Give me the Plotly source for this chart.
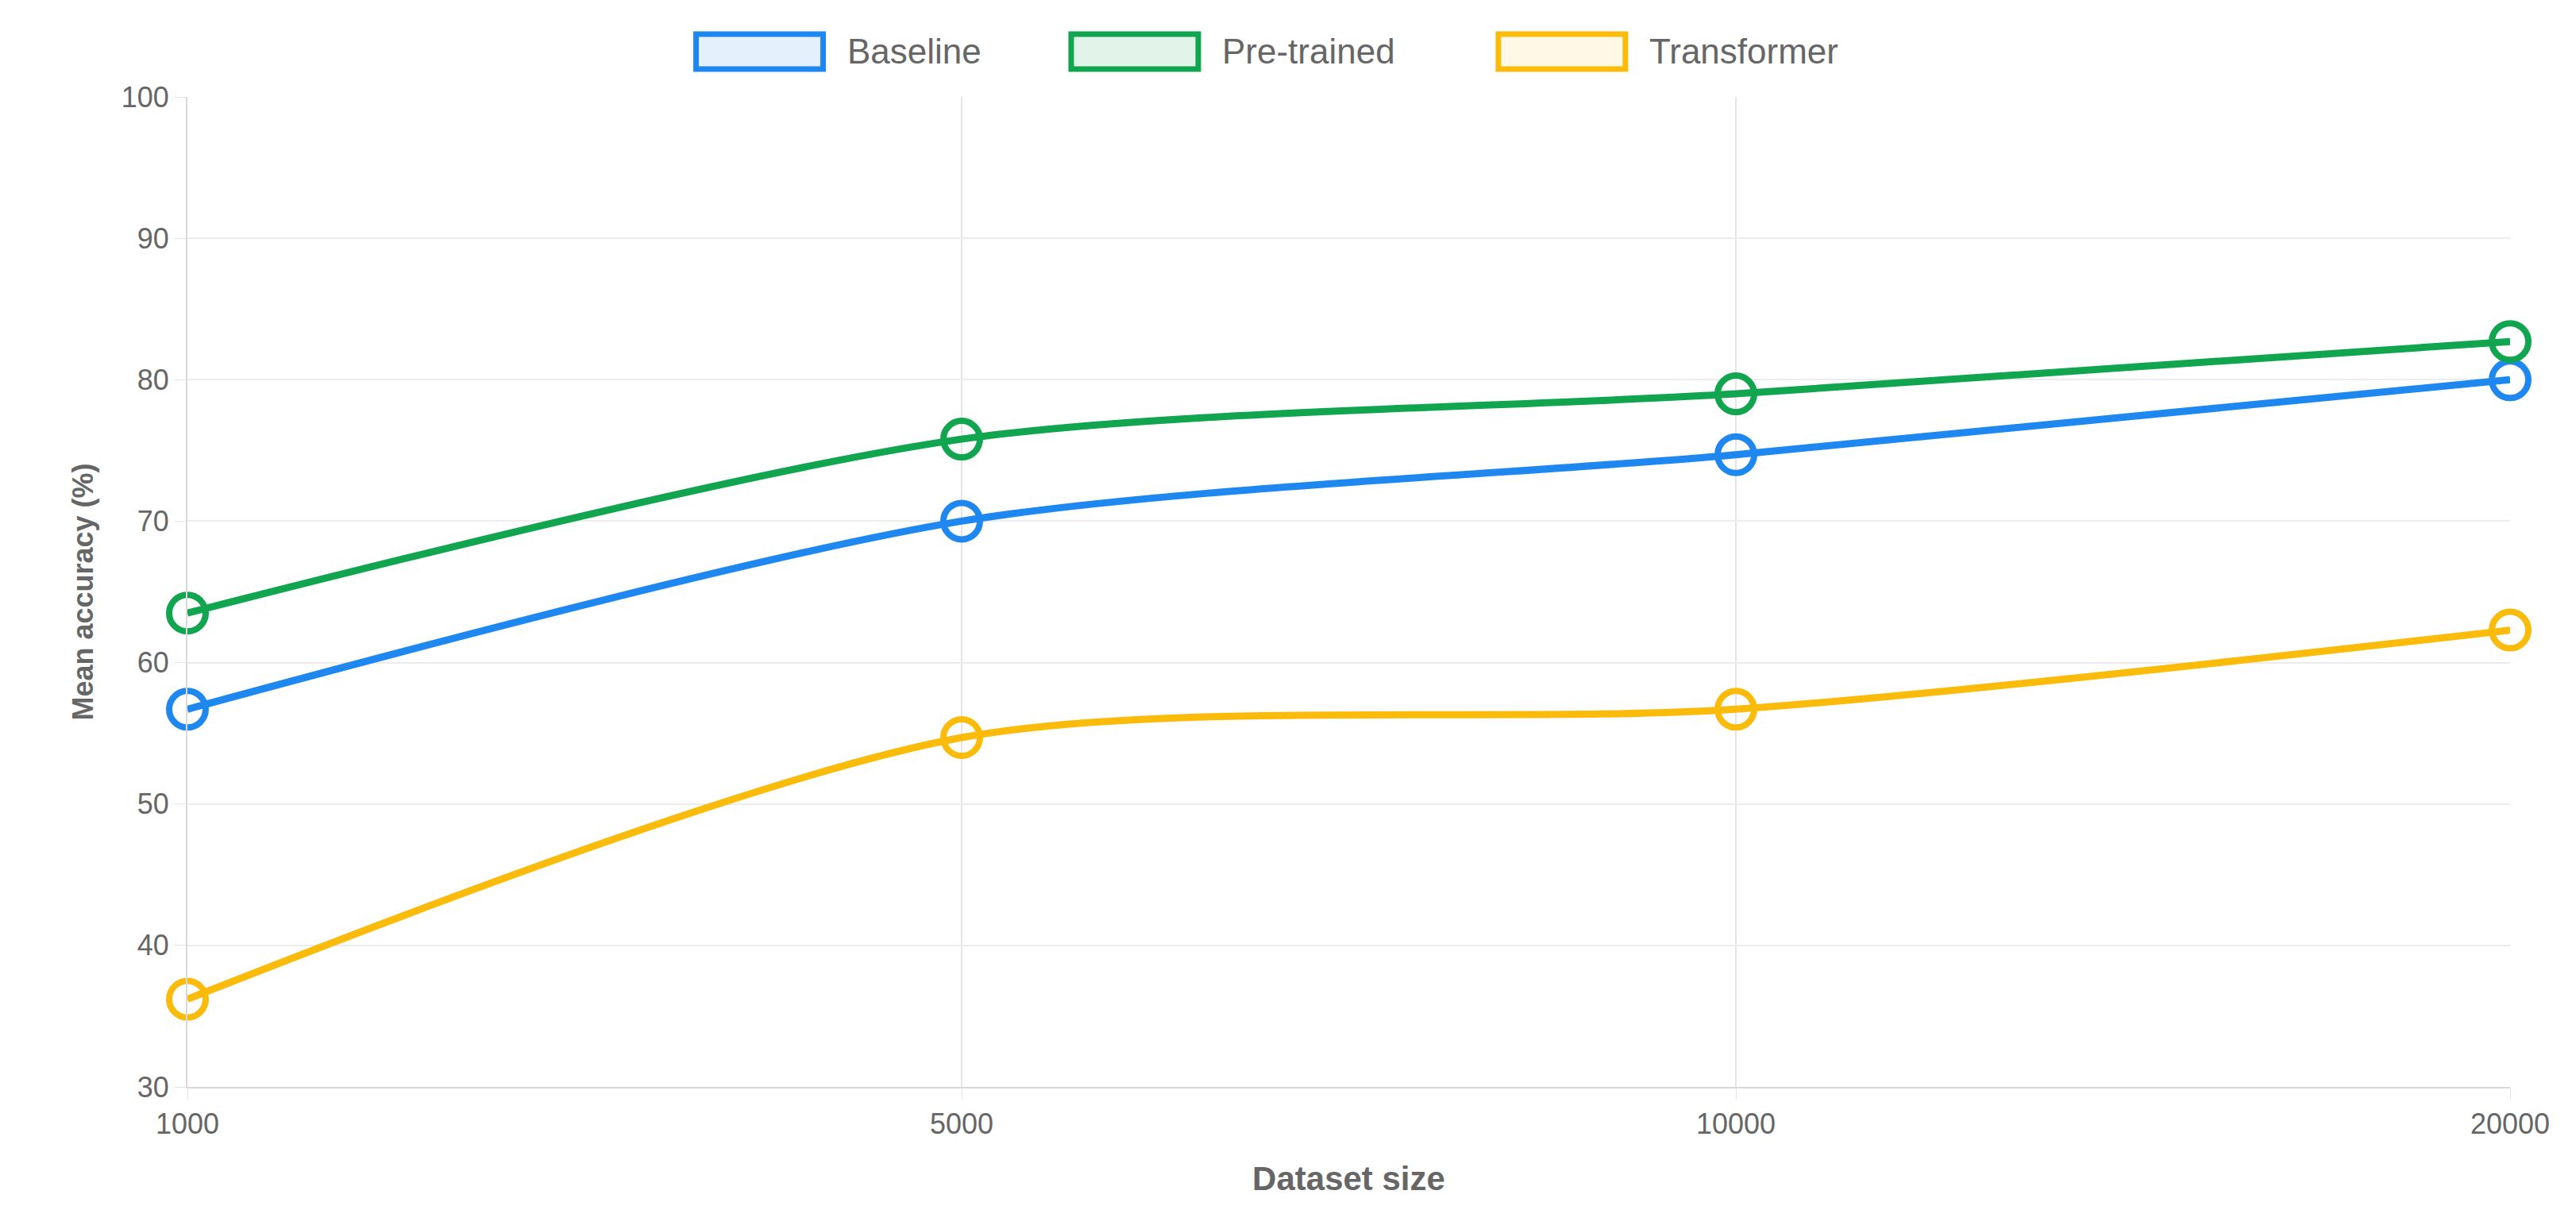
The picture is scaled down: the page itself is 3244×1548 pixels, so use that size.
import plotly.graph_objects as go

dataset_sizes = ["1000", "5000", "10000", "20000"]
baseline = [56.7, 70.0, 74.7, 80.0]
pretrained = [63.5, 75.8, 79.0, 82.7]
transformer = [36.2, 54.7, 56.7, 62.3]

series = [
    ("Baseline", baseline, "#1e88f0", "rgba(30,136,240,0.12)"),
    ("Pre-trained", pretrained, "#12a550", "rgba(18,165,80,0.12)"),
    ("Transformer", transformer, "#fbbb0b", "rgba(251,187,11,0.10)"),
]

fig = go.Figure()
for name, vals, color, fill in series:
    fig.add_trace(go.Scatter(
        x=dataset_sizes, y=vals, name=name, mode="lines+markers",
        line=dict(color=color, width=9, shape="spline", smoothing=0.8),
        marker=dict(symbol="circle-open", size=46, color=color, line=dict(width=8, color=color)),
        cliponaxis=False, showlegend=False,
    ))

# legend drawn as boxes + labels
box_left = [0.219, 0.3805, 0.5644]
for (name, vals, color, fill), x0 in zip(series, box_left):
    fig.add_shape(type="rect", xref="paper", yref="paper",
                  x0=x0, x1=x0 + 160 / 2925,
                  y0=1 + (114 - 79) / 1247, y1=1 + (114 - 35) / 1247,
                  line=dict(color=color, width=7), fillcolor=fill)
    fig.add_annotation(xref="paper", yref="paper",
                       x=x0 + 188 / 2925, y=1 + (114 - 57) / 1247,
                       text=name, showarrow=False, xanchor="left", yanchor="middle",
                       font=dict(size=44, color="#666666"))

axis_font = dict(family="Liberation Sans, Arial, sans-serif", size=36, color="#666666")
fig.update_xaxes(type="category", range=[0, 3], showgrid=True, gridcolor="#e5e5e5", gridwidth=2,
                 showline=True, linecolor="#d9d9d9", linewidth=2, ticks="outside", ticklen=14,
                 tickcolor="#e5e5e5", tickfont=axis_font,
                 title=dict(text="<b>Dataset size</b>", font=dict(size=42, color="#666666"), standoff=34))
fig.update_yaxes(range=[30, 100], dtick=10, showgrid=True, gridcolor="#ececec", gridwidth=2,
                 showline=True, linecolor="#d9d9d9", linewidth=2, ticks="outside", ticklen=14,
                 tickcolor="#e5e5e5", tickfont=axis_font, zeroline=False,
                 title=dict(text="<b>Mean accuracy (%)</b>", font=dict(size=36, color="#666666"), standoff=24))
fig.update_layout(
    width=3244, height=1548,
    margin=dict(l=228, r=91, t=114, b=187),
    paper_bgcolor="white", plot_bgcolor="white",
    font=dict(family="Liberation Sans, Arial, sans-serif", color="#666666"),
)
fig.write_html("out.html")
